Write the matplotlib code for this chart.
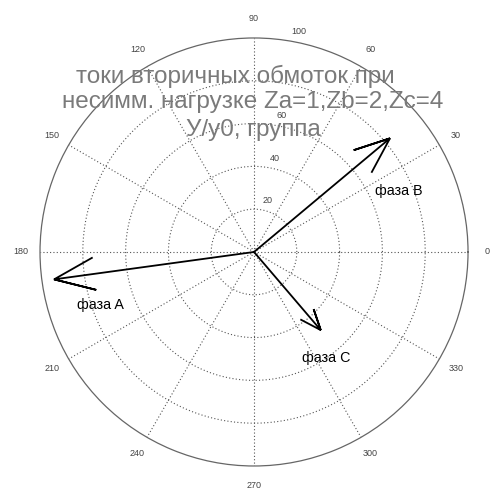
import numpy as np
import matplotlib
matplotlib.use("Agg")
import matplotlib.pyplot as plt

plt.rcParams['font.family'] = ['Liberation Sans', 'DejaVu Sans']

# data: phase current phasors (magnitude, angle in degrees)
phases = ["фаза A", "фаза B", "фаза C"]
magnitudes = [94.3, 82.8, 48.0]
angles_deg = [187.8, 39.9, 310.5]

ring_values = [20, 40, 60, 80, 100]
ring_labels = ["20", "40", "60", "", "100"]
theta_ticks = [0, 30, 60, 90, 120, 150, 180, 210, 240, 270, 300, 330]
theta_labels = ["0", "30", "60", "90", "120", "150", "180", "210", "240", "270", "300", "330"]
title_lines = ["токи вторичных обмоток при", "несимм. нагрузке Za=1,Zb=2,Zc=4", "У/у0, группа"]

fig = plt.figure(figsize=(4.92, 4.90), dpi=100)
fig.patch.set_facecolor('white')
ax = fig.add_axes([0.0813, 0.049, 0.870, 0.8735], projection='polar')
ax.set_rlim(0, 100)
ax.grid(False)
ax.set_xticks([])
ax.set_yticks([])
ax.spines['polar'].set_color('#666666')
ax.spines['polar'].set_linewidth(0.9)

grid_col = '#555555'
# rings
th = np.linspace(0, 2 * np.pi, 400)
for r in ring_values[:-1]:
    ax.plot(th, np.full_like(th, r), linestyle=(0, (1, 2)), color=grid_col, lw=0.8, zorder=1)
# spokes
for t in theta_ticks:
    ax.plot([np.deg2rad(t), np.deg2rad(t)], [0, 100], linestyle=(0, (1, 2)), color=grid_col, lw=0.8, zorder=1)

# ring labels
for r, lab in zip(ring_values, ring_labels):
    if lab:
        ax.text(np.deg2rad(80.5), r + 4.5, lab, fontsize=6.5, color='#444444',
                ha='left', va='center', clip_on=False, zorder=2)
# angle labels
for t, lab in zip(theta_ticks, theta_labels):
    ax.text(np.deg2rad(t), 109, lab, fontsize=6.5, color='#444444',
            ha='center', va='center', clip_on=False)

# compass arrows (MATLAB style)
xx = np.array([0, 1, .8, 1, .8])
yy = np.array([0, 0, .08, 0, -.08])
arrow = xx + 1j * yy
for m, a in zip(magnitudes, angles_deg):
    z = m * np.exp(1j * np.deg2rad(a))
    pts = arrow * z
    ax.plot(np.angle(pts), np.abs(pts), color='black', lw=1.3, zorder=5,
            solid_joinstyle='miter')

# phase labels
label_pos = [(199.1, 75.7), (22.8, 73.5), (-55.8, 59.9)]
for name, (t, r) in zip(phases, label_pos):
    ax.text(np.deg2rad(t), r, name, fontsize=10.3, color='black',
            ha='center', va='center', zorder=6)

# title
ys = [76, 102, 130]
xs = [235, 253, 253]
for line, x, y in zip(title_lines, xs, ys):
    fig.text(x / 492, 1 - y / 490, line, fontsize=17.5, color='#7a7a7a',
             ha='center', va='center', zorder=10)

fig.savefig("out.png", dpi=100, facecolor='white')
